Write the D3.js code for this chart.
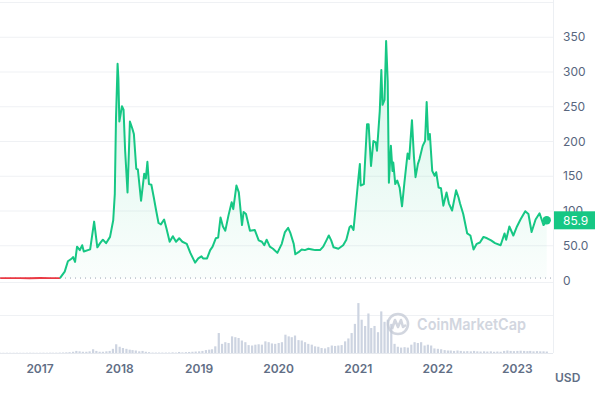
<!DOCTYPE html>
<html>
<head>
<meta charset="utf-8">
<script src="https://cdn.jsdelivr.net/npm/d3@7"></script>
<style>
    body { margin: 0; background: #ffffff; }
    #chart svg { display: block; font-family: Inter, "Noto Sans", sans-serif; }
    .ylabel { font-size: 12px; fill: #58667e; }
    .xlabel { font-size: 12px; font-weight: 600; fill: #616e85; }
</style>
</head>
<body>
<div id="chart"></div>
<script>

// price samples, time given as decimal years
var priceYears = [
    2016.50, 2016.62, 2016.75, 2016.87, 2017.00, 2017.13, 2017.25, 2017.31, 2017.35, 2017.40,
    2017.415, 2017.44, 2017.465, 2017.50, 2017.53, 2017.55, 2017.63, 2017.68, 2017.72, 2017.755,
    2017.79, 2017.83, 2017.88, 2017.92, 2017.94, 2017.955, 2017.975, 2017.985, 2017.997, 2018.03,
    2018.05, 2018.07, 2018.10, 2018.13, 2018.16, 2018.18, 2018.21, 2018.23, 2018.27, 2018.31,
    2018.33, 2018.35, 2018.37, 2018.40, 2018.43, 2018.46, 2018.49, 2018.52, 2018.56, 2018.59,
    2018.63, 2018.67, 2018.71, 2018.75, 2018.79, 2018.845, 2018.89, 2018.95, 2018.99, 2019.03,
    2019.05, 2019.10, 2019.14, 2019.17, 2019.21, 2019.24, 2019.27, 2019.30, 2019.33, 2019.37,
    2019.41, 2019.43, 2019.47, 2019.50, 2019.54, 2019.56, 2019.59, 2019.64, 2019.70, 2019.75,
    2019.79, 2019.82, 2019.85, 2019.89, 2019.93, 2019.985, 2020.04, 2020.08, 2020.12, 2020.15,
    2020.19, 2020.21, 2020.25, 2020.29, 2020.33, 2020.375, 2020.42, 2020.46, 2020.52, 2020.56,
    2020.60, 2020.63, 2020.66, 2020.69, 2020.75, 2020.81, 2020.85, 2020.89, 2020.91, 2020.94,
    2020.975, 2021.00, 2021.02, 2021.03, 2021.07, 2021.11, 2021.13, 2021.16, 2021.19, 2021.22,
    2021.235, 2021.27, 2021.29, 2021.305, 2021.33, 2021.35, 2021.37, 2021.385, 2021.41, 2021.43,
    2021.44, 2021.465, 2021.49, 2021.52, 2021.55, 2021.58, 2021.62, 2021.64, 2021.675, 2021.70,
    2021.72, 2021.75, 2021.77, 2021.81, 2021.84, 2021.86, 2021.88, 2021.90, 2021.93, 2021.96,
    2021.98, 2022.01, 2022.04, 2022.07, 2022.11, 2022.14, 2022.18, 2022.23, 2022.26, 2022.28,
    2022.32, 2022.37, 2022.41, 2022.45, 2022.49, 2022.53, 2022.575, 2022.62, 2022.67, 2022.72,
    2022.79, 2022.84, 2022.86, 2022.90, 2022.95, 2022.996, 2023.04, 2023.10, 2023.14, 2023.18,
    2023.23, 2023.28, 2023.33, 2023.37
];

var prices = [
    2.8, 2.6, 2.7, 2.5, 2.9, 2.6, 2.7, 12, 27, 31,
    33, 26, 48, 43, 50, 41, 44, 84, 47, 53,
    58, 53, 62, 86, 124, 233, 311, 290, 228, 250,
    245, 186, 126, 228, 218, 210, 160, 159, 114, 153,
    146, 170, 138, 137, 119, 100, 82, 80, 87, 74,
    55, 63, 55, 60, 55, 52, 39, 25, 31, 34,
    31, 31, 43, 48, 60, 61, 90, 77, 71, 93,
    112, 102, 136, 126, 79, 98, 95, 71, 72, 57,
    55, 50, 58, 48, 45, 39, 52, 69, 75, 67,
    52, 37, 40, 44, 43, 45, 44, 43, 43, 48,
    57, 64, 57, 47, 45, 50, 58, 76, 78, 72,
    114, 145, 167, 136, 138, 224, 224, 164, 200, 198,
    186, 243, 302, 252, 259, 344, 286, 140, 193, 157,
    169, 138, 143, 133, 106, 140, 182, 174, 230, 177,
    148, 167, 174, 193, 200, 256, 202, 210, 157, 150,
    155, 133, 132, 107, 126, 110, 100, 129, 119, 110,
    95, 67, 64, 44, 52, 54, 62, 60, 57, 53,
    50, 67, 58, 77, 64, 77, 87, 99, 95, 69,
    87, 96, 79, 85.9
];

// trading volume in billions USD, two samples per month from July 2016
var volumeStart = "2016-07-01";
var volumes = [
    0.05, 0.05, 0.06, 0.05, 0.05, 0.06, 0.05, 0.05, 0.06, 0.07,
    0.06, 0.05, 0.06, 0.07, 0.06, 0.08, 0.07, 0.08, 0.1, 0.12,
    0.15, 0.2, 0.3, 0.5, 0.4, 0.3, 0.3, 0.4, 0.9, 0.5,
    0.3, 0.3, 0.4, 0.5, 1.0, 2.1, 1.5, 1.2, 1.0, 0.8,
    0.7, 0.6, 0.4, 0.5, 0.3, 0.2, 0.1, 0.1, 0.1, 0.1,
    0.1, 0.1, 0.15, 0.1, 0.25, 0.15, 0.2, 0.25, 0.3, 0.35,
    0.4, 0.5, 0.7, 0.8, 0.9, 1.6, 4.8, 2.2, 2.6, 2.4,
    4.0, 3.8, 3.6, 3.0, 2.6, 1.9, 1.8, 2.0, 2.1, 2.0,
    2.8, 2.6, 2.3, 2.2, 2.4, 2.6, 4.4, 4.0, 3.8, 4.2,
    3.1, 3.0, 2.6, 2.2, 2.0, 1.6, 1.5, 1.2, 1.1, 1.4,
    1.8, 1.7, 1.8, 1.9, 2.8, 3.5, 4.8, 7.0, 12.0, 8.0,
    6.5, 9.5, 6.0, 6.5, 5.0, 10.0, 7.5, 8.0, 7.0, 2.2,
    1.5, 1.3, 1.4, 1.3, 2.0, 2.6, 2.4, 2.6, 1.8, 2.0,
    1.8, 1.1, 1.0, 0.9, 0.7, 0.6, 0.6, 0.5, 0.6, 0.5,
    0.4, 0.45, 0.4, 0.5, 0.4, 0.35, 0.4, 0.35, 0.4, 0.3,
    0.35, 0.3, 0.5, 0.6, 0.5, 0.45, 0.5, 0.55, 0.5, 0.45,
    0.5, 0.4, 0.45, 0.4, 0.4, 0.35
];

var yTicks = [0, 50, 100, 150, 200, 250, 300, 350];
var yTickLabels = ["0", "50.0", "100", "150", "200", "250", "300", "350"];
var gridValues = [50, 100, 150, 200, 250, 300, 350, 400];
var xTickYears = [2017, 2018, 2019, 2020, 2021, 2022, 2023];
var currency = "USD";
var watermark = "CoinMarketCap";

/**
 * turns a decimal year (2018.25) into a Date
 */
function yearToDate(yr){
    var y = Math.floor(yr);
    var start = new Date(y, 0, 1);
    var end = new Date(y + 1, 0, 1);
    return new Date(+start + (yr - y) * (end - start));
}

/**
 * Constructor for the price chart
 */
function PriceChart(){
    var self = this;
    self.init();
};

/**
 * creates the svg and the scales
 */
PriceChart.prototype.init = function(){
    var self = this;
    self.svgWidth = 615;
    self.svgHeight = 394;
    self.plotRight = 553;
    self.volTop = 282;
    self.volBottom = 353;

    self.svg = d3.select("#chart").append("svg")
        .attr("width", self.svgWidth)
        .attr("height", self.svgHeight);

    self.xScale = d3.scaleTime()
        .domain([new Date(2016, 6, 1), new Date(2023, 4, 16)])
        .range([0, 546.7]);

    self.yScale = d3.scaleLinear()
        .domain([0, 400])
        .range([280, 2]);

    self.volScale = d3.scaleLinear()
        .domain([0, 12.5])
        .range([self.volBottom, 301]);
};

/**
 * draws grid, volume, price line and labels
 */
PriceChart.prototype.update = function(){
    var self = this;
    var svg = self.svg;

    var data = priceYears.map(function(yr, i){
        return {date: yearToDate(yr), value: prices[i]};
    });
    var base = data[0].value;

    var t0 = new Date(volumeStart);
    var volData = volumes.map(function(v, i){
        var d = d3.timeMonth.offset(new Date(t0.getFullYear(), t0.getMonth(), 1), Math.floor(i / 2));
        if (i % 2 == 1) d = d3.timeDay.offset(d, 15);
        return {date: d, value: v};
    });

    //gradient for the area under the line
    var defs = svg.append("defs");
    var grad = defs.append("linearGradient")
        .attr("id", "areaGrad")
        .attr("x1", 0).attr("y1", 0).attr("x2", 0).attr("y2", 1);
    grad.append("stop").attr("offset", "0%").attr("stop-color", "#16c784").attr("stop-opacity", 0.18);
    grad.append("stop").attr("offset", "100%").attr("stop-color", "#16c784").attr("stop-opacity", 0.02);

    //horizontal grid lines
    svg.append("g").selectAll("line")
        .data(gridValues)
        .enter().append("line")
        .attr("x1", 0)
        .attr("x2", self.plotRight)
        .attr("y1", function(d){ return self.yScale(d) + 0.5; })
        .attr("y2", function(d){ return self.yScale(d) + 0.5; })
        .attr("stroke", "#eff1f4")
        .attr("stroke-width", 1);

    //volume panel lines
    svg.append("g").selectAll("line")
        .data([self.volTop, 315, self.volBottom])
        .enter().append("line")
        .attr("x1", 0)
        .attr("x2", self.plotRight)
        .attr("y1", function(d){ return d + 0.5; })
        .attr("y2", function(d){ return d + 0.5; })
        .attr("stroke", function(d, i){ return i == 2 ? "#e6e9ee" : "#eff1f4"; });

    //right border
    svg.append("line")
        .attr("x1", self.plotRight + 0.5).attr("x2", self.plotRight + 0.5)
        .attr("y1", 0).attr("y2", self.volBottom)
        .attr("stroke", "#eceff3");

    //volume bars
    svg.append("g").selectAll("rect")
        .data(volData)
        .enter().append("rect")
        .attr("x", function(d){ return self.xScale(d.date) - 1; })
        .attr("y", function(d){ return self.volScale(d.value); })
        .attr("width", 2.2)
        .attr("height", function(d){ return self.volBottom - self.volScale(d.value); })
        .attr("fill", "#cdd4e1");

    //watermark
    var wm = svg.append("g")
        .attr("transform", "translate(398,324)")
        .attr("opacity", 0.75);
    wm.append("circle")
        .attr("r", 10)
        .attr("fill", "none")
        .attr("stroke", "#c3c9d5")
        .attr("stroke-width", 2.6);
    wm.append("path")
        .attr("d", "M-6,5 L-3,-4 L0,3 L3,-4 L5,3 L8,1")
        .attr("fill", "none")
        .attr("stroke", "#c3c9d5")
        .attr("stroke-width", 2.6)
        .attr("stroke-linejoin", "round");
    wm.append("text")
        .attr("x", 19)
        .attr("y", 6)
        .style("font-size", "16px")
        .style("font-weight", 600)
        .attr("textLength", 109)
        .attr("lengthAdjust", "spacingAndGlyphs")
        .attr("fill", "#c3c9d5")
        .text(watermark);

    //dotted line at starting price
    svg.append("line")
        .attr("x1", 0).attr("x2", self.plotRight)
        .attr("y1", self.yScale(base)).attr("y2", self.yScale(base))
        .attr("stroke", "#9aa3b2")
        .attr("stroke-width", 1)
        .attr("stroke-dasharray", "1,4");

    //split: leading flat part below the start is red, the rest is green
    var k = 0;
    while (k < data.length && data[k].value < base * 1.5) k++;
    var redData = data.slice(0, k);
    var greenData = data.slice(k - 1);

    var area = d3.area()
        .x(function(d){ return self.xScale(d.date); })
        .y0(self.yScale(base))
        .y1(function(d){ return self.yScale(d.value); });

    svg.append("path")
        .datum(greenData)
        .attr("d", area)
        .attr("fill", "url(#areaGrad)");

    var line = d3.line()
        .x(function(d){ return self.xScale(d.date); })
        .y(function(d){ return self.yScale(d.value); });

    svg.append("path")
        .datum(redData)
        .attr("d", line)
        .attr("fill", "none")
        .attr("stroke", "#ea3943")
        .attr("stroke-width", 1.8);

    svg.append("path")
        .datum(greenData)
        .attr("d", line)
        .attr("fill", "none")
        .attr("stroke", "#16c784")
        .attr("stroke-width", 2)
        .attr("stroke-linejoin", "round");

    //y labels
    svg.append("g").selectAll("text")
        .data(yTicks)
        .enter().append("text")
        .attr("class", "ylabel")
        .attr("x", 563)
        .attr("y", function(d){ return self.yScale(d) + 4.5; })
        .text(function(d, i){ return yTickLabels[i]; });

    //x labels
    svg.append("g").selectAll("text")
        .data(xTickYears)
        .enter().append("text")
        .attr("class", "xlabel")
        .attr("text-anchor", "middle")
        .attr("x", function(d){ return self.xScale(new Date(d, 0, 1)); })
        .attr("y", 372.5)
        .text(function(d){ return d; });

    svg.append("text")
        .attr("class", "xlabel")
        .attr("x", 555)
        .attr("y", 382)
        .text(currency);

    //last price marker and tag
    var last = data[data.length - 1];
    var ly = self.yScale(last.value);
    svg.append("circle")
        .attr("cx", self.xScale(last.date))
        .attr("cy", ly)
        .attr("r", 4.2)
        .attr("fill", "#16c784");

    svg.append("rect")
        .attr("x", 554)
        .attr("y", ly - 9)
        .attr("width", 41)
        .attr("height", 18)
        .attr("fill", "#16c784");

    svg.append("text")
        .attr("x", 563)
        .attr("y", ly + 4.5)
        .style("font-size", "12px")
        .attr("fill", "#ffffff")
        .text(last.value.toFixed(1));
};

var chart = new PriceChart();
chart.update();
</script>
</body>
</html>
